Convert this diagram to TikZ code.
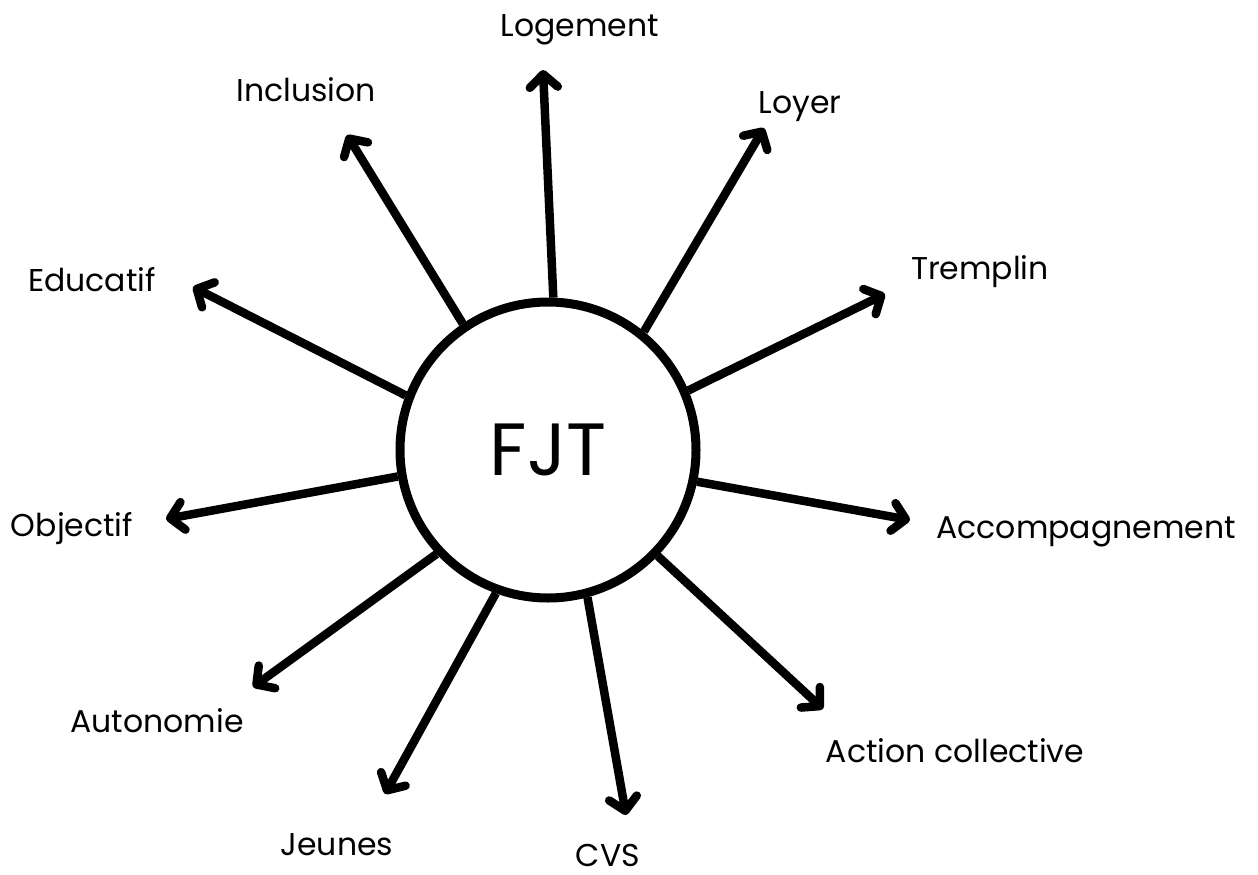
\documentclass[tikz,border=0pt]{standalone}
\usepackage{fontspec}
\setmainfont{Poppins}
\usetikzlibrary{arrows.meta}
\tikzset{
  lbl/.style={font=\fontsize{31.5}{36}\selectfont, inner sep=0pt, anchor=base},
  arr/.style={line width=8.5pt, -{Straight Barb[length=13pt,width=28pt,round]}},
  hub/.style={circle, draw, line width=9pt, minimum size=296pt, inner sep=0pt,
    font=\fontsize{74}{80}\selectfont}
}
\begin{document}
\begin{tikzpicture}[x=1pt,y=-1pt]
\useasboundingbox[fill=white] (0,0) rectangle (1258,875);
\node[hub] (c) at (548,450) {FJT};
% tips
\coordinate (tLog) at (543,70);
\coordinate (tLoy) at (764,128);
\coordinate (tTre) at (885,294);
\coordinate (tAcc) at (910,520);
\coordinate (tAct) at (823,709);
\coordinate (tCVS) at (626,815);
\coordinate (tJeu) at (385,794);
\coordinate (tAut) at (253,687);
\coordinate (tObj) at (166,519);
\coordinate (tEdu) at (193,287);
\coordinate (tInc) at (347,135);
% labels
\node[lbl] (lLog) at (580,37) {Logement};
\node[lbl] (lInc) at (306,101) {Inclusion};
\node[lbl] (lLoy) at (800,113) {Loyer};
\node[lbl] (lTre) at (980,279) {Tremplin};
\node[lbl] (lEdu) at (92,291) {Educatif};
\node[lbl] (lObj) at (72,536) {Objectif};
\node[lbl] (lAcc) at (1086,538) {Accompagnement};
\node[lbl] (lAut) at (157,732) {Autonomie};
\node[lbl] (lAct) at (955,762) {Action collective};
\node[lbl] (lJeu) at (337,855) {Jeunes};
\node[lbl] (lCVS) at (608,866) {CVS};
% arrows
\draw[arr] (c.88.2) -- (tLog);
\draw[arr] (c.51.3) -- (tLoy);
\draw[arr] (c.23.6) -- (tTre);
\draw[arr] (c.-12.5) -- (tAcc);
\draw[arr] (c.-44.5) -- (tAct);
\draw[arr] (c.-75.7) -- (tCVS);
\draw[arr] (c.-110.3) -- (tJeu);
\draw[arr] (c.-137.2) -- (tAut);
\draw[arr] (c.190.6) -- (tObj);
\draw[arr] (c.159.4) -- (tEdu);
\draw[arr] (c.124.1) -- (tInc);
\end{tikzpicture}
\end{document}
